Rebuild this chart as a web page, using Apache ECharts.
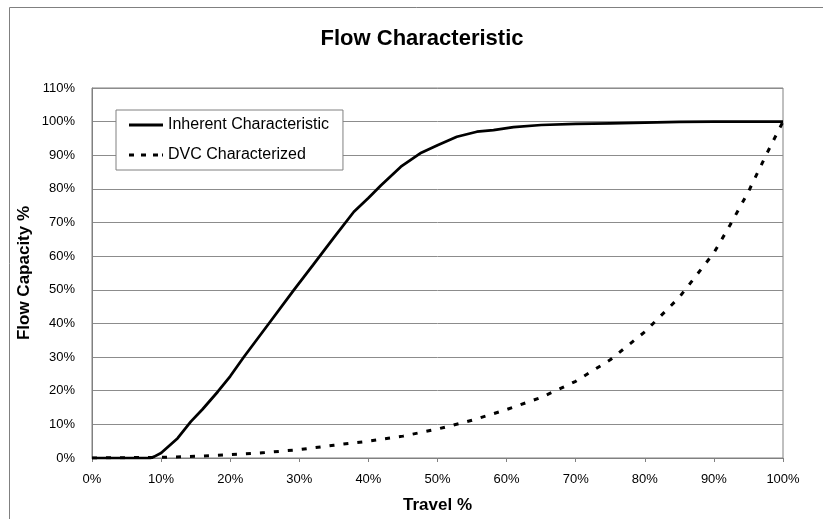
<!DOCTYPE html>
<html>
<head>
<meta charset="utf-8">
<script src="https://cdn.jsdelivr.net/npm/echarts@6/dist/echarts.min.js"></script>
<style>
html,body{margin:0;padding:0;background:#fff;}
#c{width:823px;height:519px;}
</style>
</head>
<body>
<div id="c"></div>
<script>
var titleText = 'Flow Characteristic';
var xName = 'Travel %';
var yName = 'Flow Capacity %';
var seriesNames = ['Inherent Characteristic', 'DVC Characterized'];

// Travel % (x) and Flow % (y)
var inherentX = [0, 5, 8.5, 9, 10, 12.4, 14.3, 16, 18.2, 20, 22, 25.6, 29.2, 32, 35, 37.9, 40, 41.8, 44.7, 47.5, 50, 52.8, 55.7, 58.1, 61, 65, 70, 75, 80, 85, 90, 95, 100];
var inherentY = [0, 0, 0, 0.4, 1.5, 5.9, 10.8, 14.5, 19.7, 24.3, 30.1, 40, 49.9, 57.4, 65.5, 73.2, 77.3, 81, 86.6, 90.6, 93, 95.5, 97, 97.5, 98.4, 99, 99.3, 99.5, 99.7, 99.9, 100, 100, 100];

var dvcX = [0, 10, 15, 20, 25, 30, 35, 40, 45, 50, 55, 60, 65, 70, 75, 80, 85, 90, 92.3, 95, 97.7, 100];
var dvcY = [0, 0.2, 0.5, 1.0, 1.6, 2.5, 3.8, 5.0, 6.5, 8.6, 11.2, 14.4, 18.0, 22.8, 29.2, 37.5, 47.8, 61.0, 69.1, 79.2, 90.7, 100];

function pairs(xs, ys){ return xs.map(function(x,i){ return [x, ys[i]]; }); }

var font = 'Liberation Sans, Arial, sans-serif';
var chart = echarts.init(document.getElementById('c'), null, {renderer:'canvas'});
chart.setOption({
  animation: false,
  backgroundColor: '#fff',
  graphic: [{
    type: 'polyline',
    silent: true,
    shape: { points: [[9.5, 530], [9.5, 7.5], [830, 7.5]] },
    style: { stroke: '#808080', lineWidth: 1, fill: null }
  }],
  title: {
    text: titleText,
    left: 422, textAlign: 'center', top: 28, padding: 0,
    textStyle: { fontFamily: font, fontSize: 22, fontWeight: 'bold', color: '#000' }
  },
  legend: {
    orient: 'vertical',
    left: 116, top: 110,
    padding: [5, 14, 5, 13],
    itemWidth: 34, itemHeight: 3, itemGap: 10,
    backgroundColor: '#fff',
    borderColor: '#808080', borderWidth: 1, borderRadius: 0,
    textStyle: { fontFamily: font, fontSize: 16, color: '#000', lineHeight: 20 },
    data: [
      { name: seriesNames[0], icon: 'path://M0,0H34V3H0Z' },
      { name: seriesNames[1], icon: 'path://M0,0H5V3H0Z M12,0H17V3H12Z M24,0H29V3H24Z M33,0H34V3H33Z' }
    ]
  },
  grid: { left: 92, right: 40, top: 88, bottom: 61, show: true, borderColor: '#808080', borderWidth: 1, backgroundColor: 'transparent' },
  xAxis: {
    type: 'value', min: 0, max: 100, interval: 10,
    name: xName, nameLocation: 'middle', nameGap: 39, nameMoveOverlap: false,
    nameTextStyle: { fontFamily: font, fontSize: 17, fontWeight: 'bold', color: '#000' },
    axisLine: { show: true, lineStyle: { color: '#808080', width: 1 } },
    axisTick: { show: true, length: 4, lineStyle: { color: '#808080' } },
    axisLabel: { formatter: '{value}%', margin: 15, fontFamily: font, fontSize: 13, color: '#000' },
    splitLine: { show: false }
  },
  yAxis: {
    type: 'value', min: 0, max: 110, interval: 10,
    name: yName, nameLocation: 'middle', nameGap: 59, nameRotate: 90, nameMoveOverlap: false,
    nameTextStyle: { fontFamily: font, fontSize: 17, fontWeight: 'bold', color: '#000' },
    axisLine: { show: true, lineStyle: { color: '#808080', width: 1 } },
    axisTick: { show: false },
    axisLabel: { formatter: '{value}%', margin: 17, fontFamily: font, fontSize: 13, color: '#000' },
    splitLine: { show: true, lineStyle: { color: '#8c8c8c', width: 1 } }
  },
  series: [{
    name: seriesNames[0], type: 'line', data: pairs(inherentX, inherentY),
    symbol: 'none', showSymbol: false, smooth: false,
    lineStyle: { color: '#000', width: 2.75, type: 'solid' },
    itemStyle: { color: '#000' }, z: 3
  }, {
    name: seriesNames[1], type: 'line', data: pairs(dvcX, dvcY),
    symbol: 'none', showSymbol: false, smooth: false,
    lineStyle: { color: '#000', width: 3, type: [5, 9] },
    itemStyle: { color: '#000' }, z: 4
  }]
});
</script>
</body>
</html>
